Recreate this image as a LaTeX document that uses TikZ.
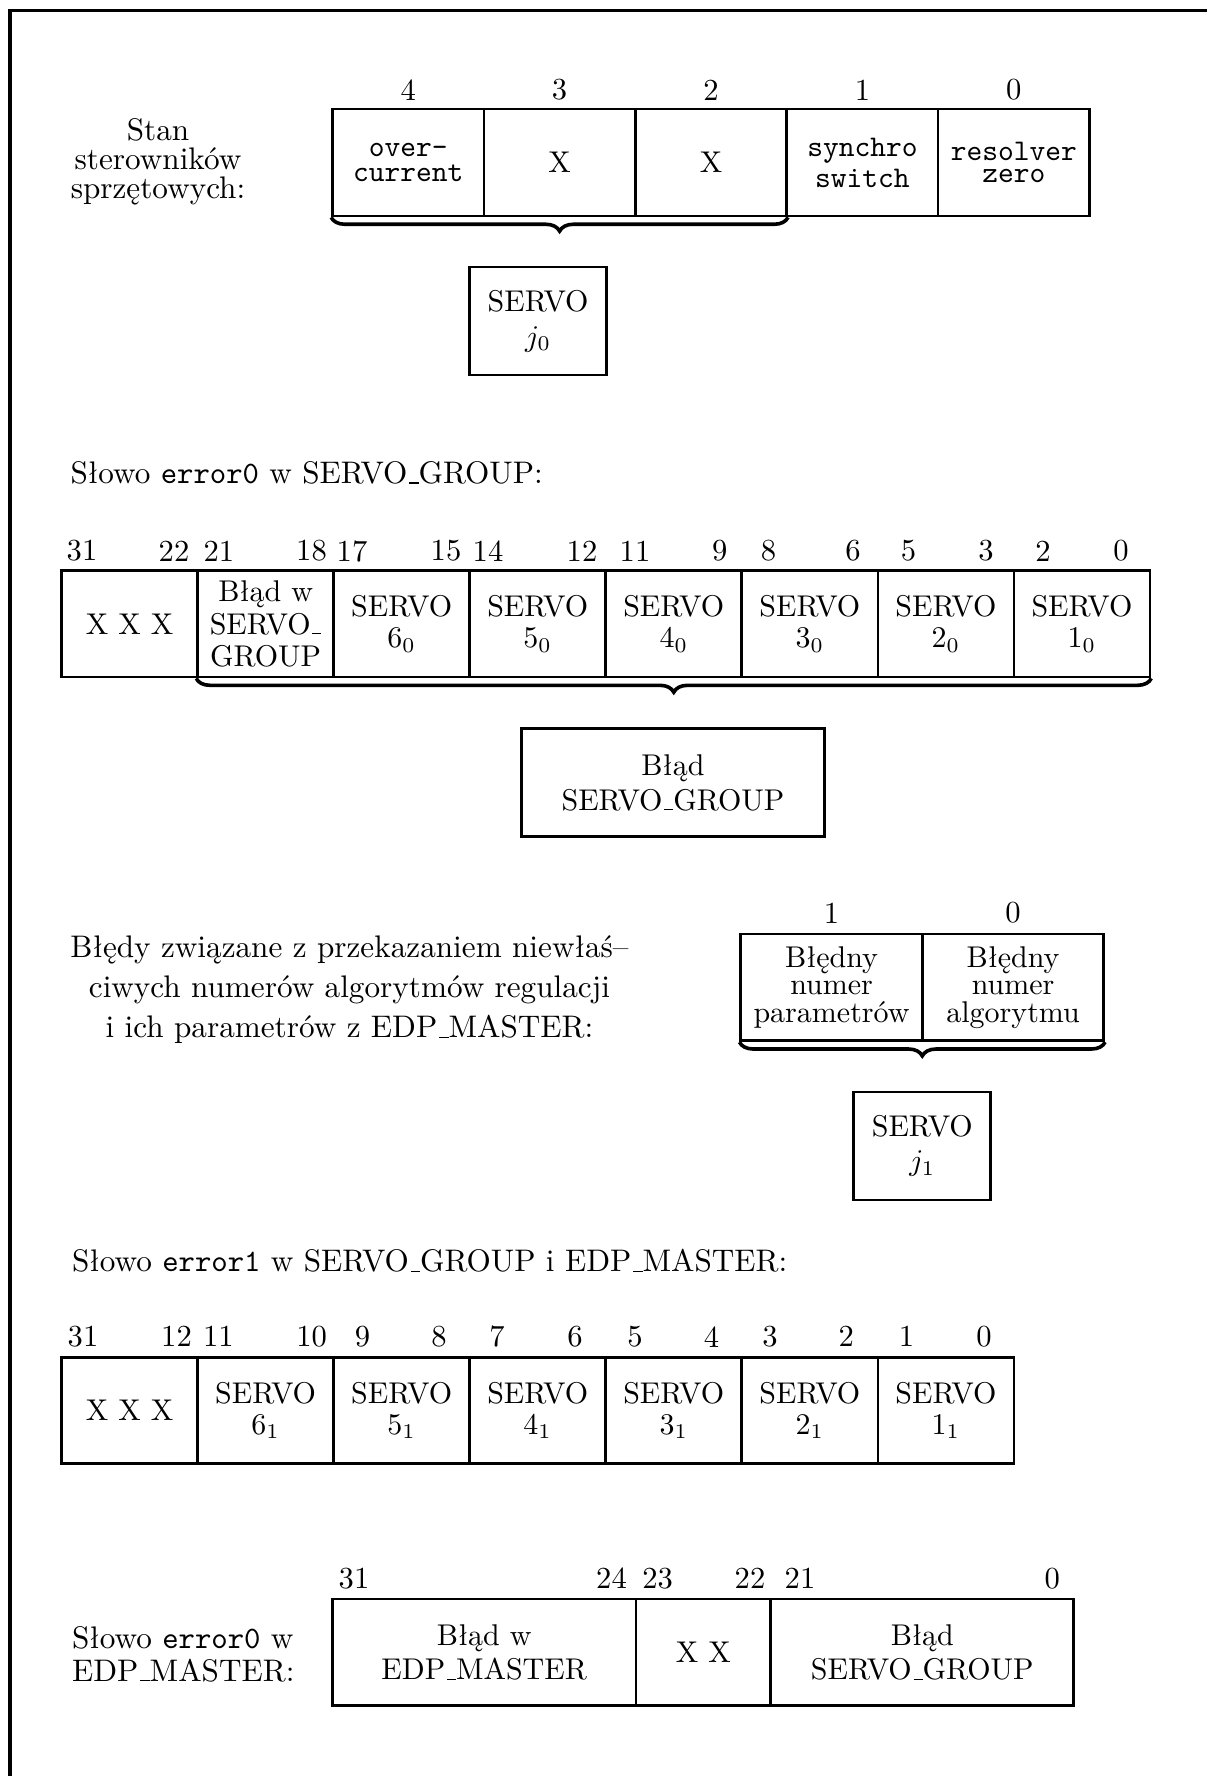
\documentclass[tikz,border=0pt]{standalone}
\usetikzlibrary{decorations.pathreplacing}
\newcommand{\usbar}{\leavevmode\kern.06em\vbox{\hrule width.3em}}
\begin{document}
\begin{tikzpicture}[x=0.3333pt, y=-0.3333pt,
  cellbox/.style n args={2}{draw, line width=0.9pt, inner sep=0pt, align=center,
      minimum width=#1*0.3333pt, minimum height=#2*0.3333pt},
  bs/.style={font=\fontsize{10}{#1}\selectfont},
  lbs/.style={font=\fontsize{10.4}{#1}\selectfont},
  bitnum/.style={inner sep=0pt, font=\fontsize{10.2}{12}\selectfont},
  txt/.style={inner sep=0pt, align=center},
  brc/.style={decorate, decoration={brace, mirror, amplitude=4.6pt}, line width=1.2pt}]
\useasboundingbox (0,0) rectangle (1207,1776);
% frame
\draw[line width=1pt] (10,1776) -- (10,10) -- (1207,10);

% ---------- register 1 ----------
\node[txt, lbs=9.6pt] (stan) at (158,162) {Stan\\sterowników\\sprzętowych:};
\foreach \n/\x in {4/408.2,3/559.6,2/711.0,1/862.4,0/1013.8}
  \node[bitnum] (a\n) at (\x,90) {\n};
\node[cellbox={151.4}{107}, bs=8.3pt] (r1c4) at (408.2,162.5) {\texttt{over-}\\\texttt{current}};
\node[cellbox={151.4}{107}, bs=12pt] (r1c3) at (559.6,162.5) {X};
\node[cellbox={151.4}{107}, bs=12pt] (r1c2) at (711.0,162.5) {X};
\node[cellbox={151.4}{107}, bs=10.3pt] (r1c1) at (862.4,162.5) {\texttt{synchro}\\\texttt{switch}};
\node[cellbox={151.4}{107}, bs=7.5pt] (r1c0) at (1013.8,162.5) {\texttt{resolver}\\\texttt{zero}};
\draw[brc] (r1c4.south west) -- (r1c2.south east);
\node[cellbox={137}{108}, bs=10.6pt] (servoj0) at (538.1,321) {SERVO\\[1pt]$j_0$};

% ---------- register 2 ----------
\node[inner sep=0pt, anchor=west, lbs=12pt] (head2) at (70,473)
  {Słowo \texttt{error0} w SERVO\usbar GROUP:};
\foreach \n/\x [count=\i] in {31/82,22/174,21/219,18/311.5,17/352,15/446,14/488,12/582,11/635,9/719.8,8/768.4,6/853,5/908.5,3/986,2/1043,0/1121}
  \node[bitnum] (b\i) at (\x,551) {\n};
\node[cellbox={136.06}{106.3}, bs=12pt] (r2c1) at (129.55,623.9) {X X X};
\node[cellbox={136.06}{106.3}, bs=10.7pt] (r2c2) at (265.6,623.9) {Błąd w\\SERVO\usbar\\GROUP};
\foreach \k/\x [count=\i from 3] in {6/401.65,5/537.7,4/673.75,3/809.85,2/945.9,1/1081.95}
  \node[cellbox={136.06}{106.3}, bs=10.3pt] (r2c\i) at (\x,623.9) {SERVO\\$\k_0$};
\draw[brc] (r2c2.south west) -- (r2c8.south east);
\node[cellbox={303}{108}, bs=11.5pt] (bladsg) at (673,782.7) {Błąd\\SERVO\usbar GROUP};

% ---------- register 3 ----------
\node[txt, lbs=13.3pt] (bledy) at (349.5,990)
  {Błędy związane z przekazaniem niewłaś--\\ciwych numerów algorytmów regulacji\\i ich parametrów z EDP\usbar MASTER:};
\node[bitnum] (c1) at (831.5,913) {1};
\node[bitnum] (c0) at (1013,913) {0};
\node[cellbox={181.5}{106.7}, bs=9.2pt] (r3c1) at (831.55,987.4) {Błędny\\numer\\parametrów};
\node[cellbox={181.5}{106.7}, bs=9.2pt] (r3c0) at (1013.05,987.4) {Błędny\\numer\\algorytmu};
\draw[brc] (r3c1.south west) -- (r3c0.south east);
\node[cellbox={137}{108}, bs=10.4pt] (servoj1) at (922.3,1145.9) {SERVO\\[1pt]$j_1$};

% ---------- register 4 ----------
\node[inner sep=0pt, anchor=west, lbs=12pt] (head4) at (71.5,1261)
  {Słowo \texttt{error1} w SERVO\usbar GROUP i EDP\usbar MASTER:};
\foreach \n/\x [count=\i] in {31/83,12/176.5,11/218.5,10/311.6,9/362.5,8/439,7/497,6/575,5/635,4/711.6,3/770,2/846.3,1/906.5,0/984}
  \node[bitnum] (d\i) at (\x,1336.7) {\n};
\node[cellbox={136.06}{106}, bs=12pt] (r4c1) at (129.55,1410.3) {X X X};
\foreach \k/\x [count=\i from 2] in {6/265.6,5/401.65,4/537.7,3/673.75,2/809.85,1/945.9}
  \node[cellbox={136.06}{106}, bs=10.3pt] (r4c\i) at (\x,1410.3) {SERVO\\$\k_1$};

% ---------- register 5 ----------
\node[inner sep=0pt, anchor=west, align=left, lbs=11pt] (head5) at (71.5,1654)
  {Słowo \texttt{error0} w\\EDP\usbar MASTER:};
\foreach \n/\x [count=\i] in {31/354,24/611.5,23/657.7,22/750,21/800,0/1052.3}
  \node[bitnum] (e\i) at (\x,1578.3) {\n};
\node[cellbox={303.7}{106.7}, bs=11.5pt] (r5c1) at (484.15,1652.4) {Błąd w\\EDP\usbar MASTER};
\node[cellbox={134.8}{106.7}, bs=12pt] (r5c2) at (703.4,1652.4) {X X};
\node[cellbox={303}{106.7}, bs=11.5pt] (r5c3) at (922.3,1652.4) {Błąd\\SERVO\usbar GROUP};
\end{tikzpicture}
\end{document}
